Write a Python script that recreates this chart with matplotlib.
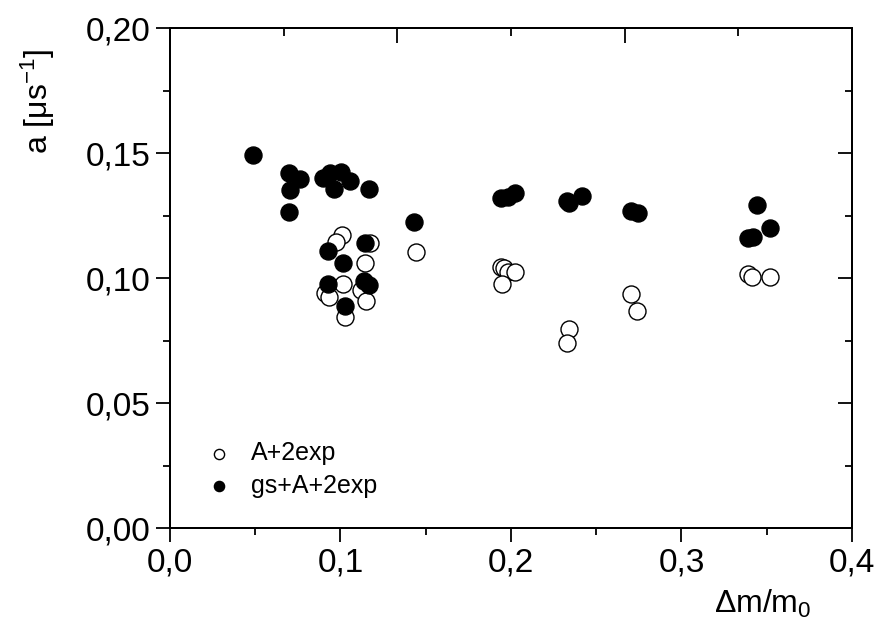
import matplotlib
matplotlib.use("Agg")
import matplotlib.pyplot as plt
from matplotlib.ticker import FuncFormatter, MultipleLocator

plt.rcParams['font.family'] = ['Liberation Sans', 'DejaVu Sans']
plt.rcParams['mathtext.fontset'] = 'custom'
plt.rcParams['mathtext.rm'] = 'Liberation Sans'
plt.rcParams['mathtext.it'] = 'Liberation Sans:italic'

# A+2exp (open circles)
x_open = [0.1010, 0.0971, 0.1173, 0.1141, 0.1016, 0.0912, 0.0931, 0.1118, 0.1151, 0.1025,
          0.1441, 0.1941, 0.1960, 0.1980, 0.2024, 0.1945, 0.2343, 0.2327, 0.2706, 0.2739,
          0.3388, 0.3412, 0.3520]
y_open = [0.1172, 0.1145, 0.1139, 0.1059, 0.0975, 0.0939, 0.0925, 0.0952, 0.0908, 0.0845,
          0.1105, 0.1045, 0.1041, 0.1025, 0.1023, 0.0976, 0.0795, 0.0741, 0.0935, 0.0868,
          0.1015, 0.1005, 0.1005]

# gs+A+2exp (filled circles)
x_fill = [0.0486, 0.0696, 0.0765, 0.0702, 0.0696, 0.0900, 0.0940, 0.1006, 0.0960, 0.1053,
          0.1165, 0.0925, 0.1016, 0.1141, 0.0925, 0.1137, 0.1167, 0.1025, 0.1430, 0.1941,
          0.2024, 0.1980, 0.2329, 0.2416, 0.2343, 0.2706, 0.2745, 0.3441, 0.3520, 0.3392,
          0.3422]
y_fill = [0.1492, 0.1419, 0.1395, 0.1352, 0.1265, 0.1400, 0.1420, 0.1424, 0.1356, 0.1388,
          0.1356, 0.1109, 0.1059, 0.1141, 0.0976, 0.0989, 0.0972, 0.0888, 0.1225, 0.1319,
          0.1341, 0.1325, 0.1308, 0.1328, 0.1299, 0.1268, 0.1261, 0.1292, 0.1199, 0.1159,
          0.1165]

fig = plt.figure(figsize=(8.77, 6.35), dpi=100)
ax = fig.add_axes([0.1938, 0.1685, 0.7777, 0.7874])

ax.scatter(x_open, y_open, s=150, facecolor='white', edgecolor='black', linewidth=1.0,
           label='A+2exp', zorder=3)
ax.scatter(x_fill, y_fill, s=150, facecolor='black', edgecolor='black', linewidth=1.0,
           label='gs+A+2exp', zorder=4)

ax.set_xlim(0, 0.4)
ax.set_ylim(0, 0.2)

# virgule comme separateur decimal
comma = lambda fmt: FuncFormatter(lambda v, p: fmt.format(v).replace('.', ','))
ax.xaxis.set_major_locator(MultipleLocator(0.1))
ax.xaxis.set_minor_locator(MultipleLocator(0.05))
ax.yaxis.set_major_locator(MultipleLocator(0.05))
ax.yaxis.set_minor_locator(MultipleLocator(0.025))
ax.xaxis.set_major_formatter(comma('{:.1f}'))
ax.yaxis.set_major_formatter(comma('{:.2f}'))

ax.tick_params(which='major', direction='out', length=10, width=1.3, labelsize=24, pad=4)
ax.tick_params(which='minor', direction='out', length=5, width=1.3)
for sp in ax.spines.values():
    sp.set_linewidth(1.3)

# axe de droite : ticks vers l'interieur
axr = ax.twinx()
axr.set_ylim(0, 0.2)
axr.yaxis.set_major_locator(MultipleLocator(0.05))
axr.yaxis.set_minor_locator(MultipleLocator(0.025))
axr.tick_params(which='major', direction='in', length=10, width=1.3, labelright=False)
axr.tick_params(which='minor', direction='in', length=5, width=1.3)

# axe du haut : ticks vers l'interieur, autre espacement
axt = ax.twiny()
axt.set_xlim(0, 0.4)
axt.set_xticks([0, 0.4 / 3, 0.8 / 3, 0.4])
axt.set_xticks([0.4 / 6, 0.2, 0.4 * 5 / 6], minor=True)
axt.tick_params(which='major', direction='in', length=11, width=1.3, labeltop=False)
axt.tick_params(which='minor', direction='in', length=6, width=1.3)
for a in (axr, axt):
    for sp in a.spines.values():
        sp.set_linewidth(1.3)

ax.legend(loc='lower left', bbox_to_anchor=(0.02, 0.015), frameon=False, fontsize=18,
          markerscale=0.6, handletextpad=0.8, labelspacing=0.35, handlelength=1.0)

fig.text(0.043, 0.84, 'a [μs$^{-1}$]', rotation=90, fontsize=23, ha='center', va='center')
fig.text(0.87, 0.035, 'Δm/m$_0$', fontsize=23, ha='center', va='baseline')

fig.savefig('out.png', dpi=100)
